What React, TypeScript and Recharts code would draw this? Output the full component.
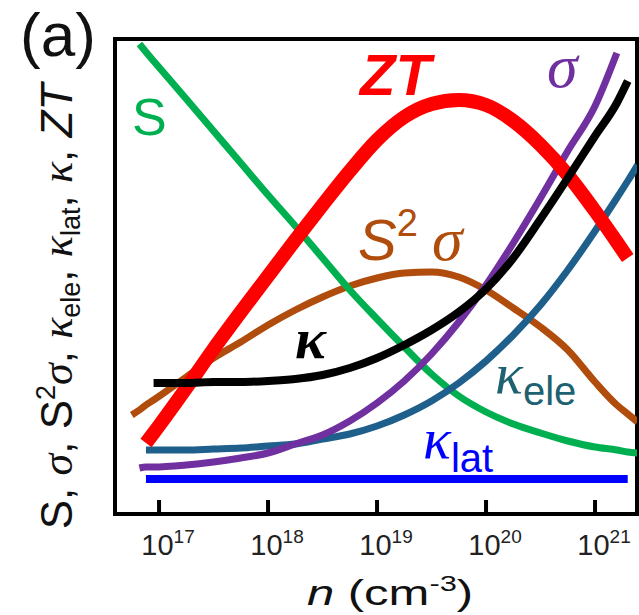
import React from "react"
import { LineChart, Line, XAxis, YAxis, ReferenceArea, ReferenceDot } from "recharts"

// carrier concentration, log10(n / cm^-3)
const logN = [
  16.75, 16.82, 16.88, 16.95, 17.25, 17.5, 17.75, 18.0, 18.25, 18.5, 18.75, 19.0,
  19.25, 19.5, 19.75, 20.0, 20.25, 20.5, 20.75, 21.0, 21.2, 21.3, 21.39,
]

// arbitrary units
const seebeck = [null, 470, 462, 453, 415, 383, 351, 319, 288, 256, 224, 195, 167, 140, 118, 102, 90, 81, 73, 67, 64, 62, 61]
const zt = [null, null, 71, 81, 126, 165, 202, 238, 274, 309, 343, 374, 397, 410, 414, 409, 393, 369, 339, 303, 272, 256, null]
const sigma = [null, 46, 47, 47, 49, 52, 56, 61, 70, 79, 93, 111, 133, 160, 192, 229, 271, 316, 363, 408, 461, null, null]
const kappa = [null, null, null, 131, 131, 132, 132, 133, 135, 139, 146, 156, 169, 184, 202, 225, 256, 295, 336, 378, 411, 433, null]
const powerFactor = [99, 104, 109, 114, 137, 156, 172, 189, 204, 217, 228, 236, 241, 242, 237, 224, 206, 187, 164, 132, 109, 100, 92]
const kappaEle = [null, null, 64, 64, 64, 65, 66, 68, 70, 75, 80, 88, 99, 113, 131, 153, 179, 209, 244, 283, 316, 333, 349]
const kappaLat = [null, null, 35, 35, 35, 35, 35, 35, 35, 35, 35, 35, 35, 35, 35, 35, 35, 35, 35, 35, 35, 35, null]

const decades = [17, 18, 19, 20, 21]
const xMin = 16.596
const xMax = 21.385
const yMax = 475

const data = logN.map((n, i) => ({
  n,
  S: seebeck[i],
  ZT: zt[i],
  sigma: sigma[i],
  kappa: kappa[i],
  pf: powerFactor[i],
  kele: kappaEle[i],
  klat: kappaLat[i],
}))

const SANS = "'Liberation Sans', Arial, sans-serif"
const SERIF = "'Liberation Serif', 'DejaVu Serif', serif"

const GREEN = "#00b050"
const RED = "#ff0000"
const PURPLE = "#7030a0"
const BROWN = "#b04c0c"
const TEAL = "#1f5f8b"
const BLUE = "#0000ff"

function DecadeTick({ x, y, payload }: any) {
  return (
    <g>
      <line x1={x} x2={x} y1={y} y2={y - 14} stroke="#000" strokeWidth={4} />
      <text x={x + 9} y={y + 41} textAnchor="middle" fontFamily={SANS} fill="#222">
        <tspan fontSize={29}>10</tspan>
        <tspan fontSize={19} dy={-12}>{payload.value}</tspan>
      </text>
    </g>
  )
}

function XLabel({ viewBox }: any) {
  const cx = viewBox.x + viewBox.width / 2 + 14
  const cy = viewBox.y + 91
  return (
    <text
      x={0}
      y={0}
      transform={`translate(${cx} ${cy}) scale(1.4 1)`}
      textAnchor="middle"
      fontFamily={SANS}
      fontSize={35}
      fill="#111"
    >
      <tspan fontStyle="italic">n</tspan>
      <tspan>{" (cm"}</tspan>
      <tspan fontSize={22} dy={-14}>-3</tspan>
      <tspan dy={14}>)</tspan>
    </text>
  )
}

function YLabel({ viewBox }: any) {
  const cx = viewBox.x + viewBox.width - 43
  const cy = viewBox.y + viewBox.height / 2 + 30
  const g = { fontFamily: SERIF, fontStyle: "italic" as const }
  return (
    <text
      x={cx}
      y={cy}
      transform={`rotate(-90 ${cx} ${cy})`}
      textAnchor="middle"
      fontFamily={SANS}
      fontSize={44}
      fill="#111"
    >
      <tspan>{"S, "}</tspan>
      <tspan {...g}>σ</tspan>
      <tspan>{", S"}</tspan>
      <tspan fontSize={27} dy={-17}>2</tspan>
      <tspan {...g} dy={17}>σ</tspan>
      <tspan>{", "}</tspan>
      <tspan {...g}>κ</tspan>
      <tspan fontSize={27} dy={8}>ele</tspan>
      <tspan dy={-8}>{", "}</tspan>
      <tspan {...g}>κ</tspan>
      <tspan fontSize={27} dy={8}>lat</tspan>
      <tspan dy={-8}>{", "}</tspan>
      <tspan {...g}>κ</tspan>
      <tspan>{", "}</tspan>
      <tspan fontStyle="italic">ZT</tspan>
    </text>
  )
}

// annotation text anchored at a data point
const note = (draw: (x: number, y: number) => React.ReactNode) => (p: any) =>
  draw(p.viewBox.x, p.viewBox.y)

const lineProps = { type: "monotone" as const, dot: false, activeDot: false, isAnimationActive: false }

export default function App() {
  return (
    <div style={{ position: "absolute", left: 0, top: 0, width: 639, height: 615, background: "#fff" }}>
      <div
        style={{
          position: "absolute",
          left: 20,
          top: 4,
          fontFamily: SANS,
          fontSize: 62,
          lineHeight: "62px",
          color: "#111",
        }}
      >
        (a)
      </div>
      <LineChart
        width={639}
        height={615}
        data={data}
        margin={{ top: 39, right: 2, bottom: 41, left: 0 }}
        style={{ position: "absolute", left: 0, top: 0 }}
      >
        <XAxis
          type="number"
          dataKey="n"
          domain={[xMin, xMax]}
          allowDataOverflow
          ticks={decades}
          tick={<DecadeTick />}
          tickSize={0}
          tickMargin={0}
          tickLine={false}
          axisLine={false}
          height={60}
          label={{ content: XLabel }}
        />
        <YAxis
          type="number"
          domain={[0, yMax]}
          allowDataOverflow
          tick={false}
          tickLine={false}
          axisLine={false}
          width={115}
          label={{ content: YLabel }}
        />

        <Line dataKey="pf" stroke={BROWN} strokeWidth={7} {...lineProps} />
        <Line dataKey="S" stroke={GREEN} strokeWidth={7} {...lineProps} />
        <Line dataKey="kele" stroke={TEAL} strokeWidth={7} {...lineProps} />
        <Line dataKey="sigma" stroke={PURPLE} strokeWidth={7} {...lineProps} />
        <Line dataKey="ZT" stroke={RED} strokeWidth={14} {...lineProps} />
        <Line dataKey="kappa" stroke="#000" strokeWidth={8} {...lineProps} />
        <Line dataKey="klat" stroke={BLUE} strokeWidth={8} {...lineProps} />

        <ReferenceArea x1={xMin} x2={xMax} y1={0} y2={yMax} fill="none" stroke="#000" strokeWidth={4} ifOverflow="visible" />

        <ReferenceDot x={16.752} y={379} r={0} fill="none" stroke="none"
          label={note((x, y) => (
            <text x={x} y={y} fontFamily={SANS} fontSize={52} fill={GREEN}>S</text>
          ))}
        />
        <ReferenceDot x={18.844} y={419} r={0} fill="none" stroke="none"
          label={note((x, y) => (
            <text x={x} y={y} fontFamily={SANS} fontSize={58} fontWeight="bold" fontStyle="italic" fill={RED}>ZT</text>
          ))}
        />
        <ReferenceDot x={20.56} y={427} r={0} fill="none" stroke="none"
          label={note((x, y) => (
            <text x={x} y={y} fontFamily={SERIF} fontSize={62} fontStyle="italic" fill={PURPLE}>σ</text>
          ))}
        />
        <ReferenceDot x={18.826} y={254} r={0} fill="none" stroke="none"
          label={note((x, y) => (
            <text x={x} y={y} fontFamily={SANS} fontSize={58} fill={BROWN}>
              <tspan fontStyle="italic">S</tspan>
              <tspan fontSize={38} dy={-24}>2</tspan>
              <tspan fontFamily={SERIF} fontStyle="italic" fontSize={62} dx={14} dy={24}>σ</tspan>
            </text>
          ))}
        />
        <ReferenceDot x={18.248} y={156} r={0} fill="none" stroke="none"
          label={note((x, y) => (
            <text x={x} y={y} fontFamily={SERIF} fontSize={58} fontWeight="bold" fontStyle="italic" fill="#000">κ</text>
          ))}
        />
        <ReferenceDot x={20.083} y={121} r={0} fill="none" stroke="none"
          label={note((x, y) => (
            <text x={x} y={y} fontFamily={SERIF} fontSize={58} fontStyle="italic" fill="#1e6271">
              κ<tspan fontFamily={SANS} fontStyle="normal" fontSize={40} dy={12}>ele</tspan>
            </text>
          ))}
        />
        <ReferenceDot x={19.422} y={56} r={0} fill="none" stroke="none"
          label={note((x, y) => (
            <text x={x} y={y} fontFamily={SERIF} fontSize={58} fontStyle="italic" fill={BLUE}>
              κ<tspan fontFamily={SANS} fontStyle="normal" fontSize={40} dy={14}>lat</tspan>
            </text>
          ))}
        />
      </LineChart>
    </div>
  )
}
